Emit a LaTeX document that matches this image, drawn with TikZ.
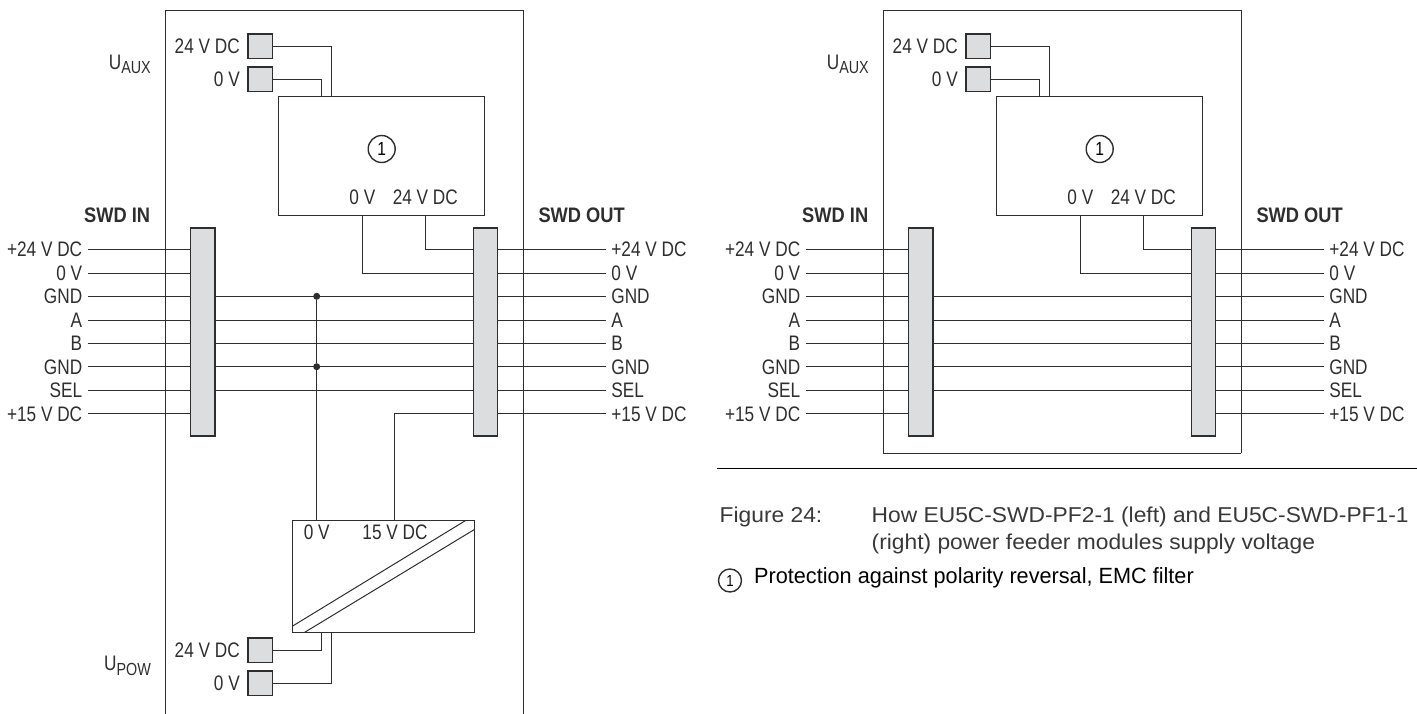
\documentclass[tikz,border=0pt]{standalone}
\usepackage{fontspec}
\setmainfont{Liberation Sans}[FakeStretch=0.82]
\newfontfamily\capfont{Liberation Sans}[FakeStretch=1.06]
\newfontfamily\legfont{Liberation Sans}[FakeStretch=0.985]
\newfontfamily\headfont{Liberation Sans}[FakeStretch=0.87]
\usetikzlibrary{calc}

\definecolor{inkc}{HTML}{2E2E2E}
\definecolor{barc}{HTML}{DCDDDE}

\newcommand{\subtxt}[1]{\raisebox{-4.7pt}{\fontsize{17.5}{20}\selectfont #1}}

\tikzset{
	wire/.style={line width=1.5pt, draw=inkc},
	txt/.style={font=\fontsize{21}{24}\selectfont, text=inkc, inner sep=0pt},
	headtxt/.style={txt, font=\headfont\fontsize{21}{24}\selectfont\bfseries},
	captxt/.style={txt, font=\capfont\fontsize{21.5}{24}\selectfont, text=black!78},
	pin/.style={draw=inkc, line width=1.5pt, fill=barc, minimum size=24.5pt, inner sep=0pt},
	bar/.style={draw=inkc, line width=1.5pt, fill=barc, minimum width=24.3pt, minimum height=207.5pt, inner sep=0pt},
	wirelbl/.style={txt, inner xsep=5.5pt, text height=15pt, text depth=0pt},
	circnum/.style={circle, draw=inkc, line width=1.4pt, minimum size=27pt, inner sep=0pt, font=\fontsize{19}{20}\selectfont},
	dot/.style={circle, fill=inkc, minimum size=7pt, inner sep=0pt},
}

\begin{document}
\begin{tikzpicture}[x=1pt, y=-1pt]

	\useasboundingbox (0,0) rectangle (1417,714);

	% both modules
	\foreach \side/\dx/\bot in {L/0/714, R/718/453.3} {
	\begin{scope}[shift={(\dx,0)}, name prefix=\side-]

		\coordinate (bl) at (165.3,\bot);
		\coordinate (tl) at (165.3,10.7);
		\coordinate (tr) at (523.3,10.7);
		\coordinate (br) at (523.3,\bot);

		% housing
		\draw[wire] (bl) -- (tl) -- (tr) -- (br);

		% aux supply
		\node[pin] (auxp) at (260,46.3) {};
		\node[pin] (auxn) at (260,79.3) {};
		\node[txt, anchor=east] at (240,46) {24 V DC};
		\node[txt, anchor=east] at (240,79) {0 V};
		\node[txt, anchor=base east] at (151,69.3) {U\subtxt{AUX}};

		% filter block
		\draw[wire] (278.3,96.7) rectangle (484.4,215.3);
		\coordinate (protn) at (321.5,96.7);
		\coordinate (protp) at (331.6,96.7);
		\coordinate (prot0) at (362.4,215.3);
		\coordinate (prot24) at (425.3,215.3);
		\node[circnum] (numb) at (381.7,149) {1};
		\node[txt] at (362.4,197) {0 V};
		\node[txt] at (425.3,197) {24 V DC};

		\draw[wire] (auxp.east) -| (protp);
		\draw[wire] (auxn.east) -| (protn);

		% bus bars
		\node[bar] (inbar) at (202.6,332) {};
		\node[bar] (outbar) at (485.5,332) {};
		\node[headtxt, anchor=east] at (150.4,215) {SWD IN};
		\node[headtxt, anchor=west] at (538.3,215) {SWD OUT};

		% signal lines
		\foreach \i/\yy/\sig in {1/249.3/+24 V DC, 2/273.3/0 V, 3/296.3/GND, 4/320.3/A, 5/343.3/B, 6/366.7/GND, 7/390.3/SEL, 8/413.7/+15 V DC} {
			\node[wirelbl, anchor=east] (inlbl\i) at (87.9,\yy) {\sig};
			\node[wirelbl, anchor=west] (outlbl\i) at (605.7,\yy) {\sig};
			\draw[wire] (inlbl\i.east) -- (inlbl\i.east -| inbar.west);
			\draw[wire] (outlbl\i.west) -- (outlbl\i.west -| outbar.east);
		}
		\foreach \i in {3,...,7} {
			\draw[wire] (inlbl\i.east -| inbar.east) -- (inlbl\i.east -| outbar.west);
		}

		\draw[wire] (prot24) |- (outlbl1.west -| outbar.west);
		\draw[wire] (prot0) |- (outlbl2.west -| outbar.west);

	\end{scope}
	}

	% closes the right housing
	\draw[wire] (R-bl) -- (R-br);

	% converter, left module only
	\begin{scope}[name prefix=L-]

		\draw[wire] (292.7,520.7) rectangle (474.7,632.3);
		\coordinate (conv0) at (316.7,520.7);
		\coordinate (conv15) at (394.3,520.7);
		\coordinate (convp) at (321.7,632.3);
		\coordinate (convn) at (331.7,632.3);

		\draw[line width=1pt, draw=inkc] (292.7,626) -- (465.3,520.7);
		\draw[line width=1pt, draw=inkc] (304.7,632.3) -- (474.7,529.3);

		\node[txt] at (316.7,532.7) {0 V};
		\node[txt] at (395,532.7) {15 V DC};

		\node[pin] (powp) at (260,650.3) {};
		\node[pin] (pown) at (260,683.3) {};
		\node[txt, anchor=east] at (240,650.3) {24 V DC};
		\node[txt, anchor=east] at (240,683) {0 V};
		\node[txt, anchor=base east] at (151,670.7) {U\subtxt{POW}};

		\draw[wire] (powp.east) -| (convp);
		\draw[wire] (pown.east) -| (convn);

		% tap to the converter
		\node[dot] (gnda) at (316.7,296.3) {};
		\node[dot] (gndb) at (316.7,366.7) {};
		\draw[wire] (gnda) -- (gndb) -- (conv0);
		\draw[wire] (conv15) |- (outlbl8.west -| outbar.west);

	\end{scope}

	% caption
	\coordinate (rulea) at (717,468.4);
	\coordinate (ruleb) at (1417,468.4);
	\draw[line width=1pt, draw=black] (rulea) -- (ruleb);

	\node[captxt, anchor=west] (figno) at (719.5,516.5) {Figure 24:};
	\node[captxt, anchor=west] (capa) at (871.5,516.5) {How EU5C-SWD-PF2-1 (left) and EU5C-SWD-PF1-1};
	\node[captxt, anchor=west] (capb) at (871.5,544) {(right) power feeder modules supply voltage};

	\node[circnum, minimum size=23pt, font=\fontsize{16}{17}\selectfont] (legnum) at (730,580.5) {1};
	\node[txt, font=\legfont\fontsize{22}{24}\selectfont, text=black, anchor=west] (legtxt) at (754,578) {Protection against polarity reversal, EMC filter};

\end{tikzpicture}
\end{document}
